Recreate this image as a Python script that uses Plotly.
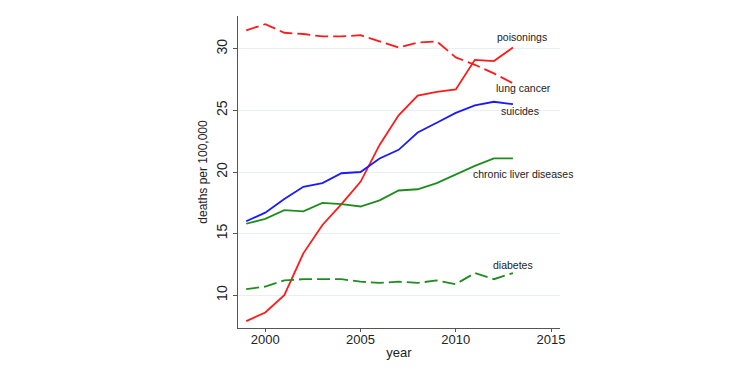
import plotly.graph_objects as go

years = list(range(1999, 2014))
lung_cancer = [31.5, 32.0, 31.3, 31.2, 31.0, 31.0, 31.1, 30.6, 30.1, 30.5, 30.6, 29.3, 28.7, 28.0, 27.2]
poisonings = [7.9, 8.6, 10.0, 13.4, 15.7, 17.4, 19.2, 22.2, 24.6, 26.2, 26.5, 26.7, 29.1, 29.0, 30.1]
suicides = [16.0, 16.7, 17.8, 18.8, 19.1, 19.9, 20.0, 21.1, 21.8, 23.2, 24.0, 24.8, 25.4, 25.7, 25.5]
chronic_liver = [15.8, 16.2, 16.9, 16.8, 17.5, 17.4, 17.2, 17.7, 18.5, 18.6, 19.1, 19.8, 20.5, 21.1, 21.1]
diabetes = [10.5, 10.7, 11.2, 11.3, 11.3, 11.3, 11.1, 11.0, 11.1, 11.0, 11.2, 10.9, 11.8, 11.3, 11.8]

x_ticks = [2000, 2005, 2010, 2015]
y_ticks = [10, 15, 20, 25, 30]

RED = "#ff1a1a"
BLUE = "#1a1aff"
GREEN = "#1f8c1f"
FONT = "Liberation Sans, Arial, sans-serif"

series = [
    ("lung cancer", lung_cancer, RED, "13px,5px"),
    ("poisonings", poisonings, RED, "solid"),
    ("suicides", suicides, BLUE, "solid"),
    ("chronic liver diseases", chronic_liver, GREEN, "solid"),
    ("diabetes", diabetes, GREEN, "13px,5px"),
]

fig = go.Figure()
for name, vals, color, dash in series:
    fig.add_trace(go.Scatter(x=years, y=vals, mode="lines", name=name,
                             line=dict(color=color, width=1.8, dash=dash)))

labels = [
    ("poisonings", 2013.45, 30.98, "center"),
    ("lung cancer", 2013.56, 26.83, "center"),
    ("suicides", 2013.35, 24.96, "center"),
    ("chronic liver diseases", 2010.82, 19.84, "left"),
    ("diabetes", 2012.98, 12.44, "center"),
]
for text, lx, ly, anchor in labels:
    fig.add_annotation(x=lx, y=ly, xref="x", yref="y", text=text, showarrow=False,
                       xanchor=anchor, yanchor="middle",
                       font=dict(family=FONT, size=10.5, color="#222222"))

fig.update_layout(
    width=735, height=372,
    margin=dict(l=230, r=183, t=8, b=52),
    paper_bgcolor="white", plot_bgcolor="white",
    showlegend=False,
    font=dict(family=FONT, size=13, color="#222222"),
    xaxis=dict(range=[1998.57, 2015.47], tickvals=x_ticks, showgrid=False,
               showline=True, linecolor="#555555", linewidth=1,
               ticks="outside", ticklen=3, tickcolor="#555555",
               ticklabelstandoff=-4,
               tickfont=dict(size=13), zeroline=False,
               title=dict(text="year", font=dict(size=13), standoff=2)),
    yaxis=dict(range=[7.34, 32.66], tickvals=y_ticks, showgrid=True,
               gridcolor="#e8f0f0", gridwidth=1,
               showline=True, linecolor="#555555", linewidth=1,
               ticks="outside", ticklen=4, tickcolor="#555555",
               tickangle=-90, tickfont=dict(size=14), zeroline=False,
               title=dict(text="deaths per 100,000", font=dict(size=12), standoff=4)),
)

fig.write_html("out.html")
